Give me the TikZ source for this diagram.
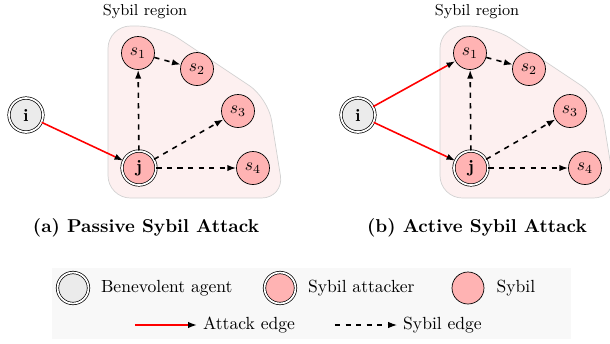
\documentclass[tikz,border=0pt]{standalone}
\usepackage{tikz}
\usetikzlibrary{arrows.meta}
\usetikzlibrary{positioning}
\definecolor{sybilred}{RGB}{255,179,179}
\definecolor{agentgray}{RGB}{235,235,235}
\definecolor{regionpink}{RGB}{253,240,240}
\definecolor{legendgray}{RGB}{248,248,248}
\tikzset{
    agent/.style={circle,draw,double,double distance=1pt,fill=agentgray,minimum size=0.68cm,inner sep=0pt},
    attacker/.style={agent,fill=sybilred},
    sybil/.style={circle,draw,fill=sybilred,minimum size=0.66cm,inner sep=0pt},
    attackedge/.style={draw=red,line width=0.9pt,-{Latex[black,length=5pt,width=3.6pt]}},
    sybiledge/.style={line width=0.9pt,dashed,-{Latex[length=5pt,width=3.6pt]}},
    region/.style={draw=gray!35,fill=regionpink,rounded corners=0.45cm},
    caption/.style={font=\fontsize{10.6}{12}\selectfont\bfseries},
}

\begin{document}
\begin{tikzpicture}[x=0.02cm,y=-0.02cm]
        \useasboundingbox (0,0) rectangle (610,343);
        % (a) passive
        \draw[region] (108,26) -- (160,26) -- (268,98) -- (284,198) -- (108,198) -- cycle;
        \node[font=\small] (rega) at (145,12) {Sybil region};
        \node[agent] (ia) at (26,115) {\textbf{i}};
        \node[attacker] (ja) at (139,168) {\textbf{j}};
        \node[sybil] (s1a) at (138,53) {$s_1$};
        \node[sybil] (s2a) at (197,69) {$s_2$};
        \node[sybil] (s3a) at (238,111) {$s_3$};
        \node[sybil] (s4a) at (253,168) {$s_4$};
        \draw[attackedge] (ia)--(ja);
        \draw[sybiledge] (ja)--(s1a);
        \draw[sybiledge] (s1a)--(s2a);
        \draw[sybiledge] (ja)--(s3a);
        \draw[sybiledge] (ja)--(s4a);
        \node[caption] (capa) at (146,228) {(a) Passive Sybil Attack};
        % (b) active
        \draw[region] (440,26) -- (492,26) -- (600,98) -- (616,198) -- (440,198) -- cycle;
        \node[font=\small] (regb) at (477,12) {Sybil region};
        \node[agent] (ib) at (358,115) {\textbf{i}};
        \node[attacker] (jb) at (471,168) {\textbf{j}};
        \node[sybil] (s1b) at (470,53) {$s_1$};
        \node[sybil] (s2b) at (529,69) {$s_2$};
        \node[sybil] (s3b) at (570,111) {$s_3$};
        \node[sybil] (s4b) at (585,168) {$s_4$};
        \draw[attackedge] (ib)--(s1b);
        \draw[attackedge] (ib)--(jb);
        \draw[sybiledge] (jb)--(s1b);
        \draw[sybiledge] (s1b)--(s2b);
        \draw[sybiledge] (jb)--(s3b);
        \draw[sybiledge] (jb)--(s4b);
        \node[caption] (capb) at (477,228) {(b) Active Sybil Attack};
        % legend
        \fill[legendgray] (52,268) rectangle (571,339);
        \node[agent,minimum size=0.62cm] (legagent) at (73,288) {};
        \node[right=0.12cm of legagent] {Benevolent agent};
        \node[attacker,minimum size=0.62cm] (legattacker) at (280,288) {};
        \node[right=0.12cm of legattacker] {Sybil attacker};
        \node[sybil,minimum size=0.64cm] (legsybil) at (468,288) {};
        \node[right=0.12cm of legsybil] {Sybil};
        \coordinate (atk1) at (135,325);
        \coordinate (atk2) at (197,325);
        \draw[attackedge] (atk1)--(atk2);
        \node[right=0cm of atk2] {Attack edge};
        \coordinate (syb1) at (335,325);
        \coordinate (syb2) at (397,325);
        \draw[sybiledge,line width=0.6pt] (syb1)--(syb2);
        \node[right=0cm of syb2] {Sybil edge};
    \end{tikzpicture}
\end{document}
